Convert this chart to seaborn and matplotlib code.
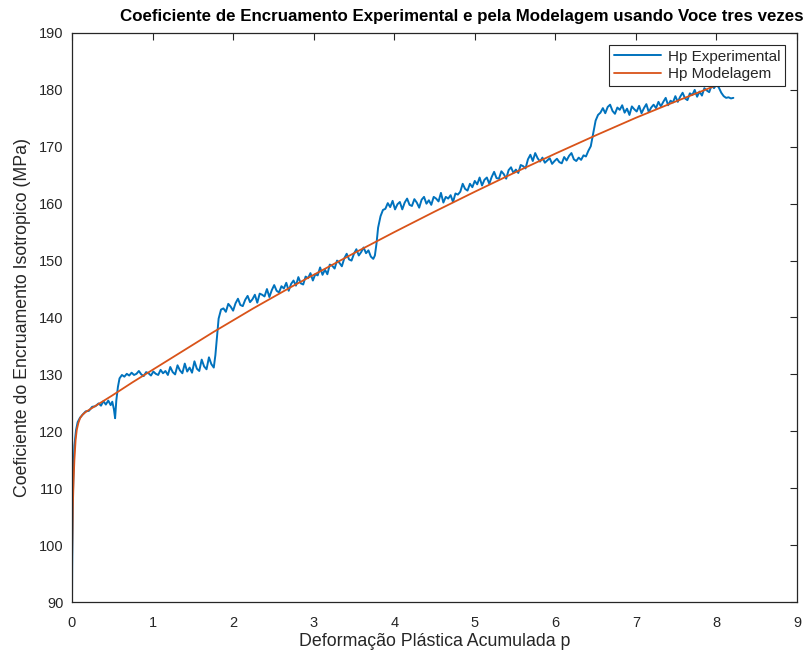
import matplotlib
matplotlib.use("Agg")
import matplotlib.pyplot as plt
import seaborn as sns
import pandas as pd

# Experimental isotropic hardening: (accumulated plastic strain p, Hp in MPa)
exp_points = [
    (0.000, 90.0), (0.002, 96.0), (0.010, 108.0), (0.020, 114.0), (0.030, 117.5),
    (0.050, 120.2), (0.070, 121.6), (0.100, 122.4), (0.130, 122.9), (0.170, 123.5),
    (0.210, 123.6), (0.250, 124.3), (0.290, 124.4), (0.330, 124.9), (0.360, 124.5),
    (0.390, 125.3), (0.420, 124.7), (0.450, 125.4), (0.480, 124.6), (0.500, 125.2),
    (0.520, 123.9), (0.535, 122.3), (0.550, 125.4), (0.570, 127.8), (0.590, 129.3),
    (0.620, 129.9), (0.650, 129.6), (0.680, 130.1),
    (0.71, 129.8), (0.74, 130.3), (0.77, 129.9), (0.80, 130.1), (0.83, 130.6),
    (0.86, 130.0), (0.89, 129.7), (0.92, 130.4), (0.95, 130.2), (0.98, 129.8),
    (1.01, 130.5), (1.04, 130.1), (1.07, 129.9), (1.10, 130.8), (1.13, 130.2),
    (1.16, 130.6), (1.19, 129.9), (1.22, 131.3), (1.25, 130.4), (1.28, 130.0),
    (1.31, 131.6), (1.34, 130.7), (1.37, 130.2), (1.40, 131.9), (1.43, 130.5),
    (1.46, 131.2), (1.49, 130.3), (1.52, 132.3), (1.55, 131.0), (1.58, 130.6),
    (1.61, 132.6), (1.64, 131.4), (1.67, 130.9), (1.70, 133.0), (1.73, 131.8),
    (1.76, 131.2), (1.78, 133.4),
    (1.80, 136.5), (1.82, 139.8), (1.85, 141.4), (1.88, 141.6), (1.91, 141.0),
    (1.94, 142.4), (1.97, 141.9), (2.00, 141.2), (2.03, 142.5), (2.06, 143.3),
    (2.09, 142.2), (2.12, 142.0), (2.15, 143.1), (2.18, 143.8), (2.21, 142.7),
    (2.24, 143.2), (2.27, 144.0), (2.30, 142.6), (2.33, 144.2), (2.36, 144.0),
    (2.39, 143.7), (2.42, 145.0), (2.45, 143.6), (2.48, 144.8), (2.51, 145.7),
    (2.54, 144.7), (2.57, 144.4), (2.60, 145.5), (2.63, 145.1), (2.66, 146.1),
    (2.69, 144.7), (2.72, 145.9), (2.75, 146.5), (2.78, 145.6), (2.81, 147.1),
    (2.84, 146.0), (2.87, 145.8), (2.90, 147.2), (2.93, 146.9), (2.96, 147.8),
    (2.99, 146.5), (3.02, 147.6), (3.05, 147.4), (3.08, 148.8), (3.11, 147.5),
    (3.14, 148.4), (3.17, 147.6), (3.20, 149.3), (3.23, 149.1), (3.26, 148.6),
    (3.29, 150.0), (3.32, 149.6), (3.35, 149.0), (3.38, 150.4), (3.41, 151.2),
    (3.44, 150.2), (3.47, 150.0), (3.50, 151.2), (3.53, 152.0), (3.56, 150.9),
    (3.59, 151.5), (3.62, 152.3), (3.65, 151.3), (3.68, 151.8), (3.71, 150.7),
    (3.74, 150.3), (3.76, 150.9), (3.78, 153.0), (3.80, 155.8), (3.83, 157.8),
    (3.86, 158.9),
    (3.89, 159.1), (3.92, 160.1), (3.95, 159.4), (3.98, 160.5), (4.01, 159.0),
    (4.04, 159.9), (4.07, 160.3), (4.10, 159.0), (4.13, 160.2), (4.16, 160.9),
    (4.19, 159.8), (4.22, 159.6), (4.25, 160.8), (4.28, 160.2), (4.31, 159.3),
    (4.34, 160.7), (4.37, 161.2), (4.40, 160.0), (4.43, 160.6), (4.46, 159.8),
    (4.49, 161.2), (4.52, 160.9), (4.55, 160.4), (4.58, 161.9), (4.61, 160.2),
    (4.64, 161.2), (4.67, 160.9), (4.70, 161.5), (4.73, 160.3), (4.76, 161.8),
    (4.79, 161.6), (4.82, 162.1), (4.85, 163.5), (4.88, 162.6), (4.91, 162.3),
    (4.94, 163.5), (4.97, 162.9), (5.00, 164.0), (5.03, 163.4), (5.06, 164.6),
    (5.09, 163.2), (5.12, 164.2), (5.15, 164.6), (5.18, 163.5), (5.21, 164.7),
    (5.24, 165.6), (5.27, 164.5), (5.30, 164.4), (5.33, 165.7), (5.36, 165.2),
    (5.39, 164.4), (5.42, 165.9), (5.45, 166.4), (5.48, 165.4), (5.51, 166.0),
    (5.54, 165.4), (5.57, 166.8), (5.60, 166.6), (5.63, 166.2), (5.66, 167.8),
    (5.69, 168.6), (5.72, 167.5), (5.75, 168.9), (5.78, 168.0), (5.81, 167.4),
    (5.84, 168.1), (5.87, 167.2), (5.90, 167.6), (5.93, 168.0), (5.96, 167.0),
    (5.99, 167.5), (6.02, 167.9), (6.05, 167.3), (6.08, 167.1), (6.11, 168.2),
    (6.14, 167.6), (6.17, 168.4), (6.20, 168.9), (6.23, 167.8), (6.26, 167.5),
    (6.29, 168.1), (6.32, 167.7), (6.35, 168.5), (6.38, 168.3), (6.41, 169.3),
    (6.44, 170.1), (6.47, 172.4), (6.50, 174.6), (6.53, 175.6), (6.56, 176.0),
    (6.59, 176.8), (6.62, 175.9), (6.65, 177.0), (6.68, 177.4), (6.71, 176.3),
    (6.74, 175.8), (6.77, 176.9), (6.80, 176.5), (6.83, 177.3), (6.86, 176.0),
    (6.89, 176.7), (6.92, 175.6), (6.95, 177.1), (6.98, 176.6), (7.01, 176.2),
    (7.04, 177.2), (7.07, 175.9), (7.10, 176.8), (7.13, 177.5), (7.16, 176.1),
    (7.19, 176.9), (7.22, 177.4), (7.25, 176.8), (7.28, 177.9), (7.31, 177.1),
    (7.34, 177.9), (7.37, 178.6), (7.40, 177.3), (7.43, 178.1), (7.46, 177.8),
    (7.49, 178.9), (7.52, 177.9), (7.55, 178.8), (7.58, 179.5), (7.61, 178.5),
    (7.64, 178.2), (7.67, 179.4), (7.70, 179.1), (7.73, 180.0), (7.76, 178.8),
    (7.79, 179.7), (7.82, 179.0), (7.85, 180.3), (7.88, 179.9), (7.91, 179.6),
    (7.94, 180.8), (7.97, 180.3), (8.00, 181.0), (8.03, 180.4), (8.06, 179.5),
    (8.09, 178.9), (8.12, 178.6), (8.15, 178.7), (8.18, 178.5), (8.21, 178.6),
]
p_exp = [pt[0] for pt in exp_points]
hp_exp = [pt[1] for pt in exp_points]

# Three-term Voce fit (p, Hp in MPa)
p_mod = [0.0, 0.01, 0.02, 0.03, 0.045, 0.06, 0.08, 0.10, 0.13, 0.17,
         0.25, 0.5, 0.75, 1.0, 1.25, 1.5, 1.75, 2.0, 2.25, 2.5,
         2.75, 3.0, 3.5, 4.0, 4.5, 5.0, 5.5, 6.0, 6.5, 7.0,
         7.5, 8.0, 8.2]
hp_mod = [97.0, 106.5, 111.5, 115.0, 118.5, 120.3, 121.5, 122.3, 122.9, 123.4,
          124.1, 126.3, 128.6, 130.8, 133.0, 135.2, 137.4, 139.5, 141.6, 143.6,
          145.6, 147.5, 151.3, 155.0, 158.6, 162.1, 165.5, 168.8, 172.0, 175.1,
          178.0, 180.8, 181.8]

x_ticks = [0, 1, 2, 3, 4, 5, 6, 7, 8, 9]
y_ticks = [90, 100, 110, 120, 130, 140, 150, 160, 170, 180, 190]

sns.set_theme(style="white")
plt.rcParams["font.family"] = ["Liberation Sans", "DejaVu Sans"]

axis_color = "#262626"
blue = "#0072BD"
orange = "#D95319"

df_exp = pd.DataFrame({"p": p_exp, "Hp": hp_exp})
df_mod = pd.DataFrame({"p": p_mod, "Hp": hp_mod})

fig = plt.figure(figsize=(8.11, 6.59), dpi=100)
fig.patch.set_facecolor("white")
ax = fig.add_axes([72 / 811, 1 - 602 / 659, (797 - 72) / 811, (602 - 33) / 659])

sns.lineplot(data=df_exp, x="p", y="Hp", ax=ax, color=blue, lw=1.4,
             sort=False, estimator=None, label="Hp Experimental")
sns.lineplot(data=df_mod, x="p", y="Hp", ax=ax, color=orange, lw=1.3,
             sort=False, estimator=None, label="Hp Modelagem")

ax.set_xlim(0, 9)
ax.set_ylim(90, 190)
ax.set_xticks(x_ticks)
ax.set_yticks(y_ticks)
ax.tick_params(direction="in", length=5, width=0.8, colors=axis_color,
               labelsize=10.5, top=True, right=True)
ax.tick_params(axis="x", pad=10)
ax.tick_params(axis="y", pad=6)
for s in ax.spines.values():
    s.set_color(axis_color)
    s.set_linewidth(0.9)

ax.set_xlabel("Deformação Plástica Acumulada p", fontsize=12.8, color=axis_color, labelpad=2)
ax.set_ylabel("Coeficiente do Encruamento Isotropico (MPa)", fontsize=12.8,
              color=axis_color, labelpad=6)
fig.text(462 / 811, 1 - 16 / 659,
         "Coeficiente de Encruamento Experimental e pela Modelagem usando Voce tres vezes",
         ha="center", va="center", fontsize=12.2, fontweight="bold", color="black")

leg = ax.legend(loc="upper right", bbox_to_anchor=(0.984, 0.979), fontsize=11,
                frameon=True, fancybox=False, framealpha=1, edgecolor=axis_color,
                handlelength=3.1, borderpad=0.3, labelspacing=0.25, handletextpad=0.45,
                borderaxespad=0)
leg.get_frame().set_linewidth(0.8)
for t in leg.get_texts():
    t.set_color(axis_color)

fig.savefig("out.png", dpi=100, facecolor="white")
